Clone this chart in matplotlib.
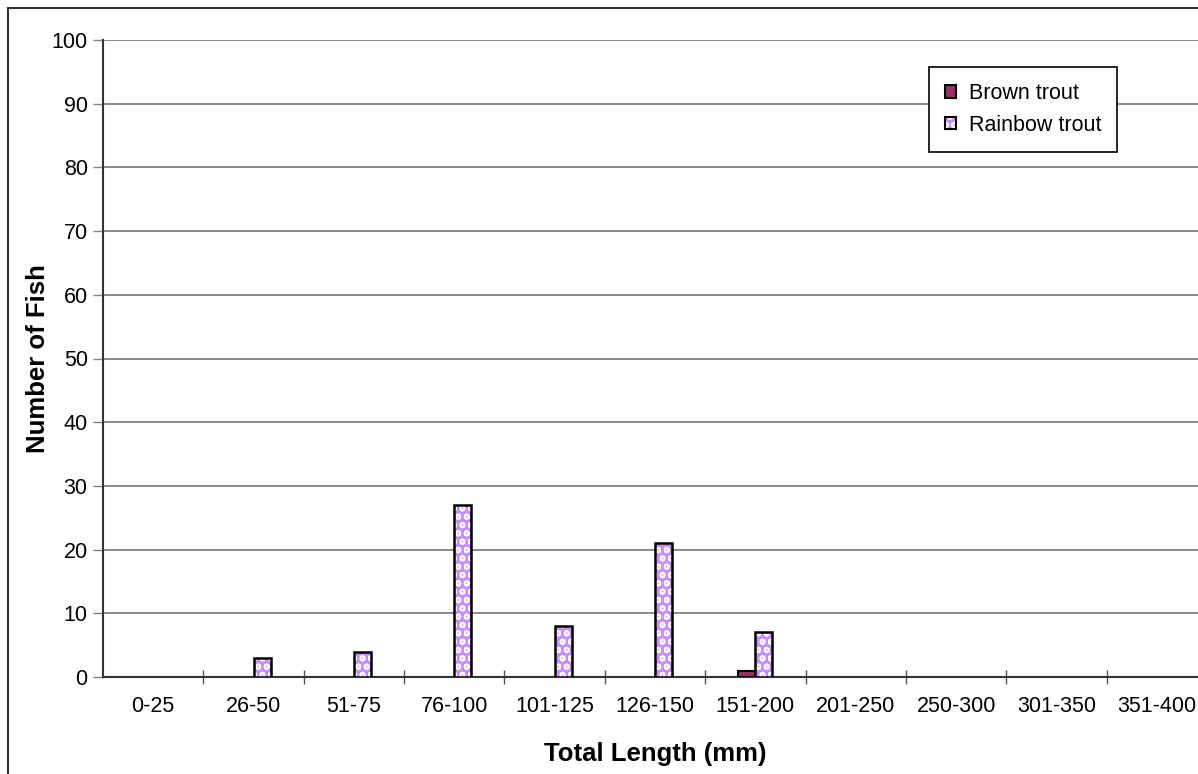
import numpy as np
import matplotlib
matplotlib.use('Agg')
import matplotlib.pyplot as plt
from matplotlib.patches import Patch, Rectangle
from matplotlib.legend_handler import HandlerTuple

plt.rcParams['font.family'] = ['Liberation Sans', 'DejaVu Sans']
plt.rcParams['hatch.linewidth'] = 6.0

# data
categories = ['0-25', '26-50', '51-75', '76-100', '101-125', '126-150',
              '151-200', '201-250', '250-300', '301-350', '351-400']
brown_trout = [0, 0, 0, 0, 0, 0, 1, 0, 0, 0, 0]
rainbow_trout = [0, 3, 4, 27, 8, 21, 7, 0, 0, 0, 0]

brown_color = '#993366'
dot_color = '#C58CFF'

fig = plt.figure(figsize=(11.98, 7.74), dpi=100)
ax = fig.add_axes([103 / 1198, 1 - 677 / 774, 1104 / 1198, 637 / 774])

x = np.arange(len(categories))
w = 0.17

# brown trout bars
ax.bar(x - w / 2, brown_trout, w, color=brown_color,
       edgecolor=['black' if v > 0 else 'none' for v in brown_trout],
       linewidth=1.5, zorder=3)

# rainbow trout bars: dotted fill + black outline
ax.bar(x + w / 2, rainbow_trout, w, color='white', edgecolor=dot_color,
       hatch='..', linewidth=0, zorder=3)
ax.bar(x + w / 2, rainbow_trout, w, fill=False,
       edgecolor=['black' if v > 0 else 'none' for v in rainbow_trout],
       linewidth=1.8, zorder=4)

ax.set_xlim(-0.5, len(categories) - 0.5)
ax.set_ylim(0, 100)
ax.set_yticks(range(0, 101, 10))
ax.yaxis.grid(True, color='#808080', linewidth=1.3, zorder=0)
ax.set_axisbelow(True)

ax.set_xticks(x)
ax.set_xticklabels(categories, fontsize=15.5)
ax.set_xticks(np.arange(0.5, len(categories) - 0.5, 1), minor=True)
ax.tick_params(axis='x', which='major', length=0, pad=14)
ax.tick_params(axis='x', which='minor', direction='inout', length=10,
               width=1, color='#555555')
ax.tick_params(axis='y', direction='out', length=7, width=1,
               color='#808080', labelsize=15.5, pad=4)

for side in ['top', 'right']:
    ax.spines[side].set_visible(False)
for side in ['left', 'bottom']:
    ax.spines[side].set_color('#333333')
    ax.spines[side].set_linewidth(1.5)

ax.set_xlabel('Total Length (mm)', fontsize=18.5, fontweight='bold', labelpad=18)
ax.set_ylabel('Number of Fish', fontsize=18.5, fontweight='bold', labelpad=1)

# legend
h_brown = Patch(facecolor=brown_color, edgecolor='black', linewidth=1.5)
h_rain = (Patch(facecolor='white', edgecolor=dot_color, hatch='..', linewidth=0),
          Patch(fill=False, edgecolor='black', linewidth=1.5))
leg = ax.legend([h_brown, h_rain], ['Brown trout', 'Rainbow trout'],
                handler_map={tuple: HandlerTuple(ndivide=1)},
                loc='upper left', bbox_to_anchor=(929 / 1198, 1 - 67 / 774),
                bbox_transform=fig.transFigure, fontsize=15.5,
                handlelength=0.5, handleheight=0.5, handletextpad=0.6,
                labelspacing=0.5, borderpad=0.75, borderaxespad=0,
                fancybox=False, framealpha=1, edgecolor='black')
leg.get_frame().set_linewidth(1.2)
leg.set_zorder(10)

# outer chart border
fig.add_artist(Rectangle((8 / 1198, -0.5), 2, 1.5 - 8 / 774, transform=fig.transFigure,
                         fill=False, edgecolor='#333333', linewidth=1.5))

fig.savefig('out.png', dpi=100)
